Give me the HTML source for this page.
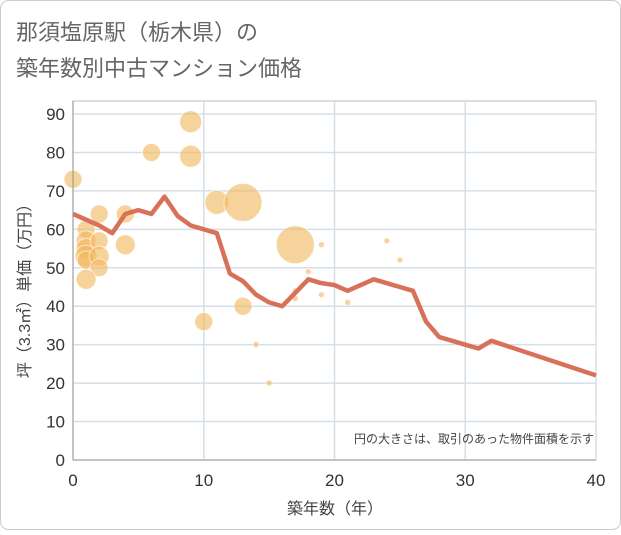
<!DOCTYPE html>
<html><head><meta charset="utf-8"><style>
body{margin:0;background:#fff;}
#wrap{width:621px;height:530px;position:relative;font-family:"Liberation Sans","Noto Sans CJK JP",sans-serif;}
</style></head><body>
<div id="wrap">
<svg id="svg" width="621" height="530" xmlns="http://www.w3.org/2000/svg">
<rect x="0.5" y="0.5" width="620" height="529" rx="8" fill="#fff" stroke="#ccc"/>
<text x="16" y="40" font-size="22" fill="#666" font-family="Liberation Sans,Noto Sans CJK JP,sans-serif">那須塩原駅（栃木県）の</text>
<text x="16" y="76" font-size="22" fill="#666" font-family="Liberation Sans,Noto Sans CJK JP,sans-serif">築年数別中古マンション価格</text>
<g id="grid"></g><g id="bubbles"></g><g id="line"></g><g id="axes"></g>
<text x="594" y="443" font-size="12" fill="#444" text-anchor="end" font-family="Liberation Sans,Noto Sans CJK JP,sans-serif">円の大きさは、取引のあった物件面積を示す</text>
<text x="335" y="514" font-size="16" fill="#444" text-anchor="middle" font-family="Liberation Sans,Noto Sans CJK JP,sans-serif">築年数（年）</text>
<text transform="translate(30,287) rotate(-90)" font-size="16" fill="#444" text-anchor="middle" font-family="Liberation Sans,Noto Sans CJK JP,sans-serif">坪（3.3㎡）単価（万円）</text>
</svg>
</div>
<script>
const xTicks=[0,10,20,30,40];
const yTicks=[0,10,20,30,40,50,60,70,80,90];
const lineX=[0,1,2,3,4,5,6,7,8,9,10,11,12,13,14,15,16,17,18,19,20,21,22,23,24,25,26,27,28,29,30,31,32,40];
const lineY=[64,62.5,61,59,64,65,64,68.5,63.5,61,60,59,48.5,46.5,43,41,40,43.5,47,46,45.5,44,45.5,47,46,45,44,36,32,31,30,29,31,22];
const bubX=[0,1,1,1,1,1,2,2,2,2,1,4,4,6,9,9,10,11,13,13,14,15,17,17,17,18,19,19,21,24,25];
const bubY=[73,60,57,55,53,52,64,57,53,50,47,64,56,80,88,79,36,67,67,40,30,20,56,42,44,49,56,43,41,57,52];
const bubR=[9,9,10,10,11,9,9,9,10,9,10,9,10,9,11,11,9,12,19,9,3,3,19,3,3,3,3,3,3,3,3];
const NS="http://www.w3.org/2000/svg";
const X0=73,X1=596,Y0=460,Y1=114;
const sx=v=>X0+(v-0)/(40-0)*(X1-X0);
const sy=v=>Y0-(v-0)/(90-0)*(Y0-Y1);
function mk(t,a,p){const e=document.createElementNS(NS,t);for(const k in a)e.setAttribute(k,a[k]);p.appendChild(e);return e;}
const grid=document.getElementById('grid'),axes=document.getElementById('axes');
mk('rect',{x:X0,y:101,width:X1-X0,height:Y0-101,fill:'none',stroke:'#bbb'},grid);
yTicks.forEach(v=>{
 const l=mk('line',{x1:X0,x2:X1,y1:sy(v),y2:sy(v),stroke:'#d5dfe8','stroke-width':1.5},grid);
 
 
 const t=mk('text',{x:X0-8,y:sy(v)+6,'font-size':17,fill:'#333','text-anchor':'end','font-family':'Liberation Sans,sans-serif'},axes);
 t.textContent=v;
 
 
});
xTicks.forEach(v=>{
 const l=mk('line',{x1:sx(v),x2:sx(v),y1:101,y2:Y0,stroke:'#d5dfe8','stroke-width':1.5},grid);
 
 
 const t=mk('text',{x:sx(v),y:486,'font-size':17,fill:'#333','text-anchor':'middle','font-family':'Liberation Sans,sans-serif'},axes);
 t.textContent=v;
 
 
});
mk('line',{x1:X0,x2:X0,y1:101,y2:Y0,stroke:'#999'},axes);
mk('line',{x1:X0,x2:X1,y1:Y0,y2:Y0,stroke:'#999'},axes);
const bg=document.getElementById('bubbles');
bubX.forEach((x,i)=>{
 const c=mk('circle',{cx:sx(x),cy:sy(bubY[i]),r:bubR[i],fill:'rgba(242,182,90,0.6)',stroke:'rgba(255,255,255,0.6)','stroke-width':1},bg);
 
 
});
const p=mk('polyline',{points:lineX.map((x,i)=>sx(x)+','+sy(lineY[i])).join(' '),fill:'none',stroke:'#d8705a','stroke-width':4.5,'stroke-linejoin':'round'},document.getElementById('line'));


</script>
</body></html>
